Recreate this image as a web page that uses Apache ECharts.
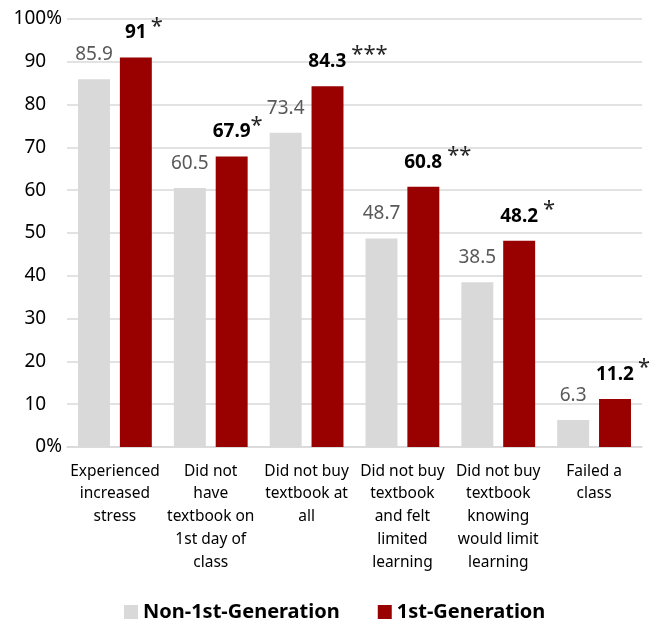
<!DOCTYPE html>
<html>
<head>
<meta charset="utf-8">
<script src="https://cdn.jsdelivr.net/npm/echarts@6/dist/echarts.min.js"></script>
<style>html,body{margin:0;padding:0;background:#fff;}#c{width:650px;height:624px;}</style>
</head>
<body>
<div id="c"></div>
<script>
var categories = [
  "Experienced\nincreased\nstress",
  "Did not\nhave\ntextbook on\n1st day of\nclass",
  "Did not buy\ntextbook at\nall",
  "Did not buy\ntextbook\nand felt\nlimited\nlearning",
  "Did not buy\ntextbook\nknowing\nwould limit\nlearning",
  "Failed a\nclass"
];
var nonFirstGen = [85.9, 60.5, 73.4, 48.7, 38.5, 6.3];
var firstGen = [91, 67.9, 84.3, 60.8, 48.2, 11.2];
var significance = ["*", "*", "***", "**", "*", "*"];
var yTicks = [0, 10, 20, 30, 40, 50, 60, 70, 80, 90, 100];

var FONT = "Noto Sans";
var starGap = [4, 0, 5, 5, 5, 4];
var starW = 12;

var firstData = firstGen.map(function (v, i) {
  var n = significance[i].length;
  var off = (starGap[i] + n * starW) / 2;
  return {
    value: v,
    label: {
      offset: [off, 0],
      rich: {
        s: { fontSize: 22, fontWeight: 'normal', color: '#262626', fontFamily: FONT,
             verticalAlign: 'bottom', padding: [0, 0, 5, starGap[i]] }
      }
    }
  };
});

var chart = echarts.init(document.getElementById('c'), null, { renderer: 'canvas' });
chart.setOption({
  animation: false,
  textStyle: { fontFamily: FONT },
  grid: { left: 67, right: 8, top: 19, bottom: 177, containLabel: false },
  legend: {
    top: 597,
    left: 119,
    itemWidth: 14, itemHeight: 14, itemGap: 38,
    icon: 'rect',
    textStyle: { fontSize: 20, fontWeight: 'bold', color: '#000', fontFamily: FONT },
    data: ['Non-1st-Generation', '1st-Generation']
  },
  xAxis: {
    type: 'category',
    data: categories,
    axisLine: { show: true, lineStyle: { color: '#d9d9d9', width: 1.5 } },
    axisTick: { show: false },
    axisLabel: { interval: 0, fontSize: 15.5, color: '#000', lineHeight: 22.7, margin: 13, fontFamily: FONT }
  },
  yAxis: {
    type: 'value',
    min: 0, max: 100, interval: 10,
    axisLine: { show: false },
    axisTick: { show: false },
    splitLine: { lineStyle: { color: '#d9d9d9', width: 1.5 } },
    axisLabel: {
      fontSize: 19, color: '#000', margin: 5, fontFamily: FONT,
      formatter: function (v) {
        return (v === 0 || v === 100) ? v + '{p|%}' : v + '{h|%}';
      },
      rich: {
        p: { fontSize: 19, color: '#000', fontFamily: FONT },
        h: { fontSize: 19, color: 'rgba(0,0,0,0)', fontFamily: FONT }
      }
    }
  },
  series: [
    {
      name: 'Non-1st-Generation',
      type: 'bar',
      data: nonFirstGen,
      itemStyle: { color: '#d9d9d9' },
      barGap: '31%',
      barCategoryGap: '23%',
      label: { show: true, position: 'top', distance: 15, fontSize: 19, color: '#595959', fontFamily: FONT }
    },
    {
      name: '1st-Generation',
      type: 'bar',
      data: firstData,
      itemStyle: { color: '#990000' },
      label: {
        show: true, position: 'top', distance: 15,
        formatter: function (p) { return '{v|' + p.value + '}{s|' + significance[p.dataIndex] + '}'; },
        rich: {
          v: { fontSize: 19, fontWeight: 'bold', color: '#000', fontFamily: FONT, verticalAlign: 'bottom' }
        }
      }
    }
  ]
});
</script>
</body>
</html>
